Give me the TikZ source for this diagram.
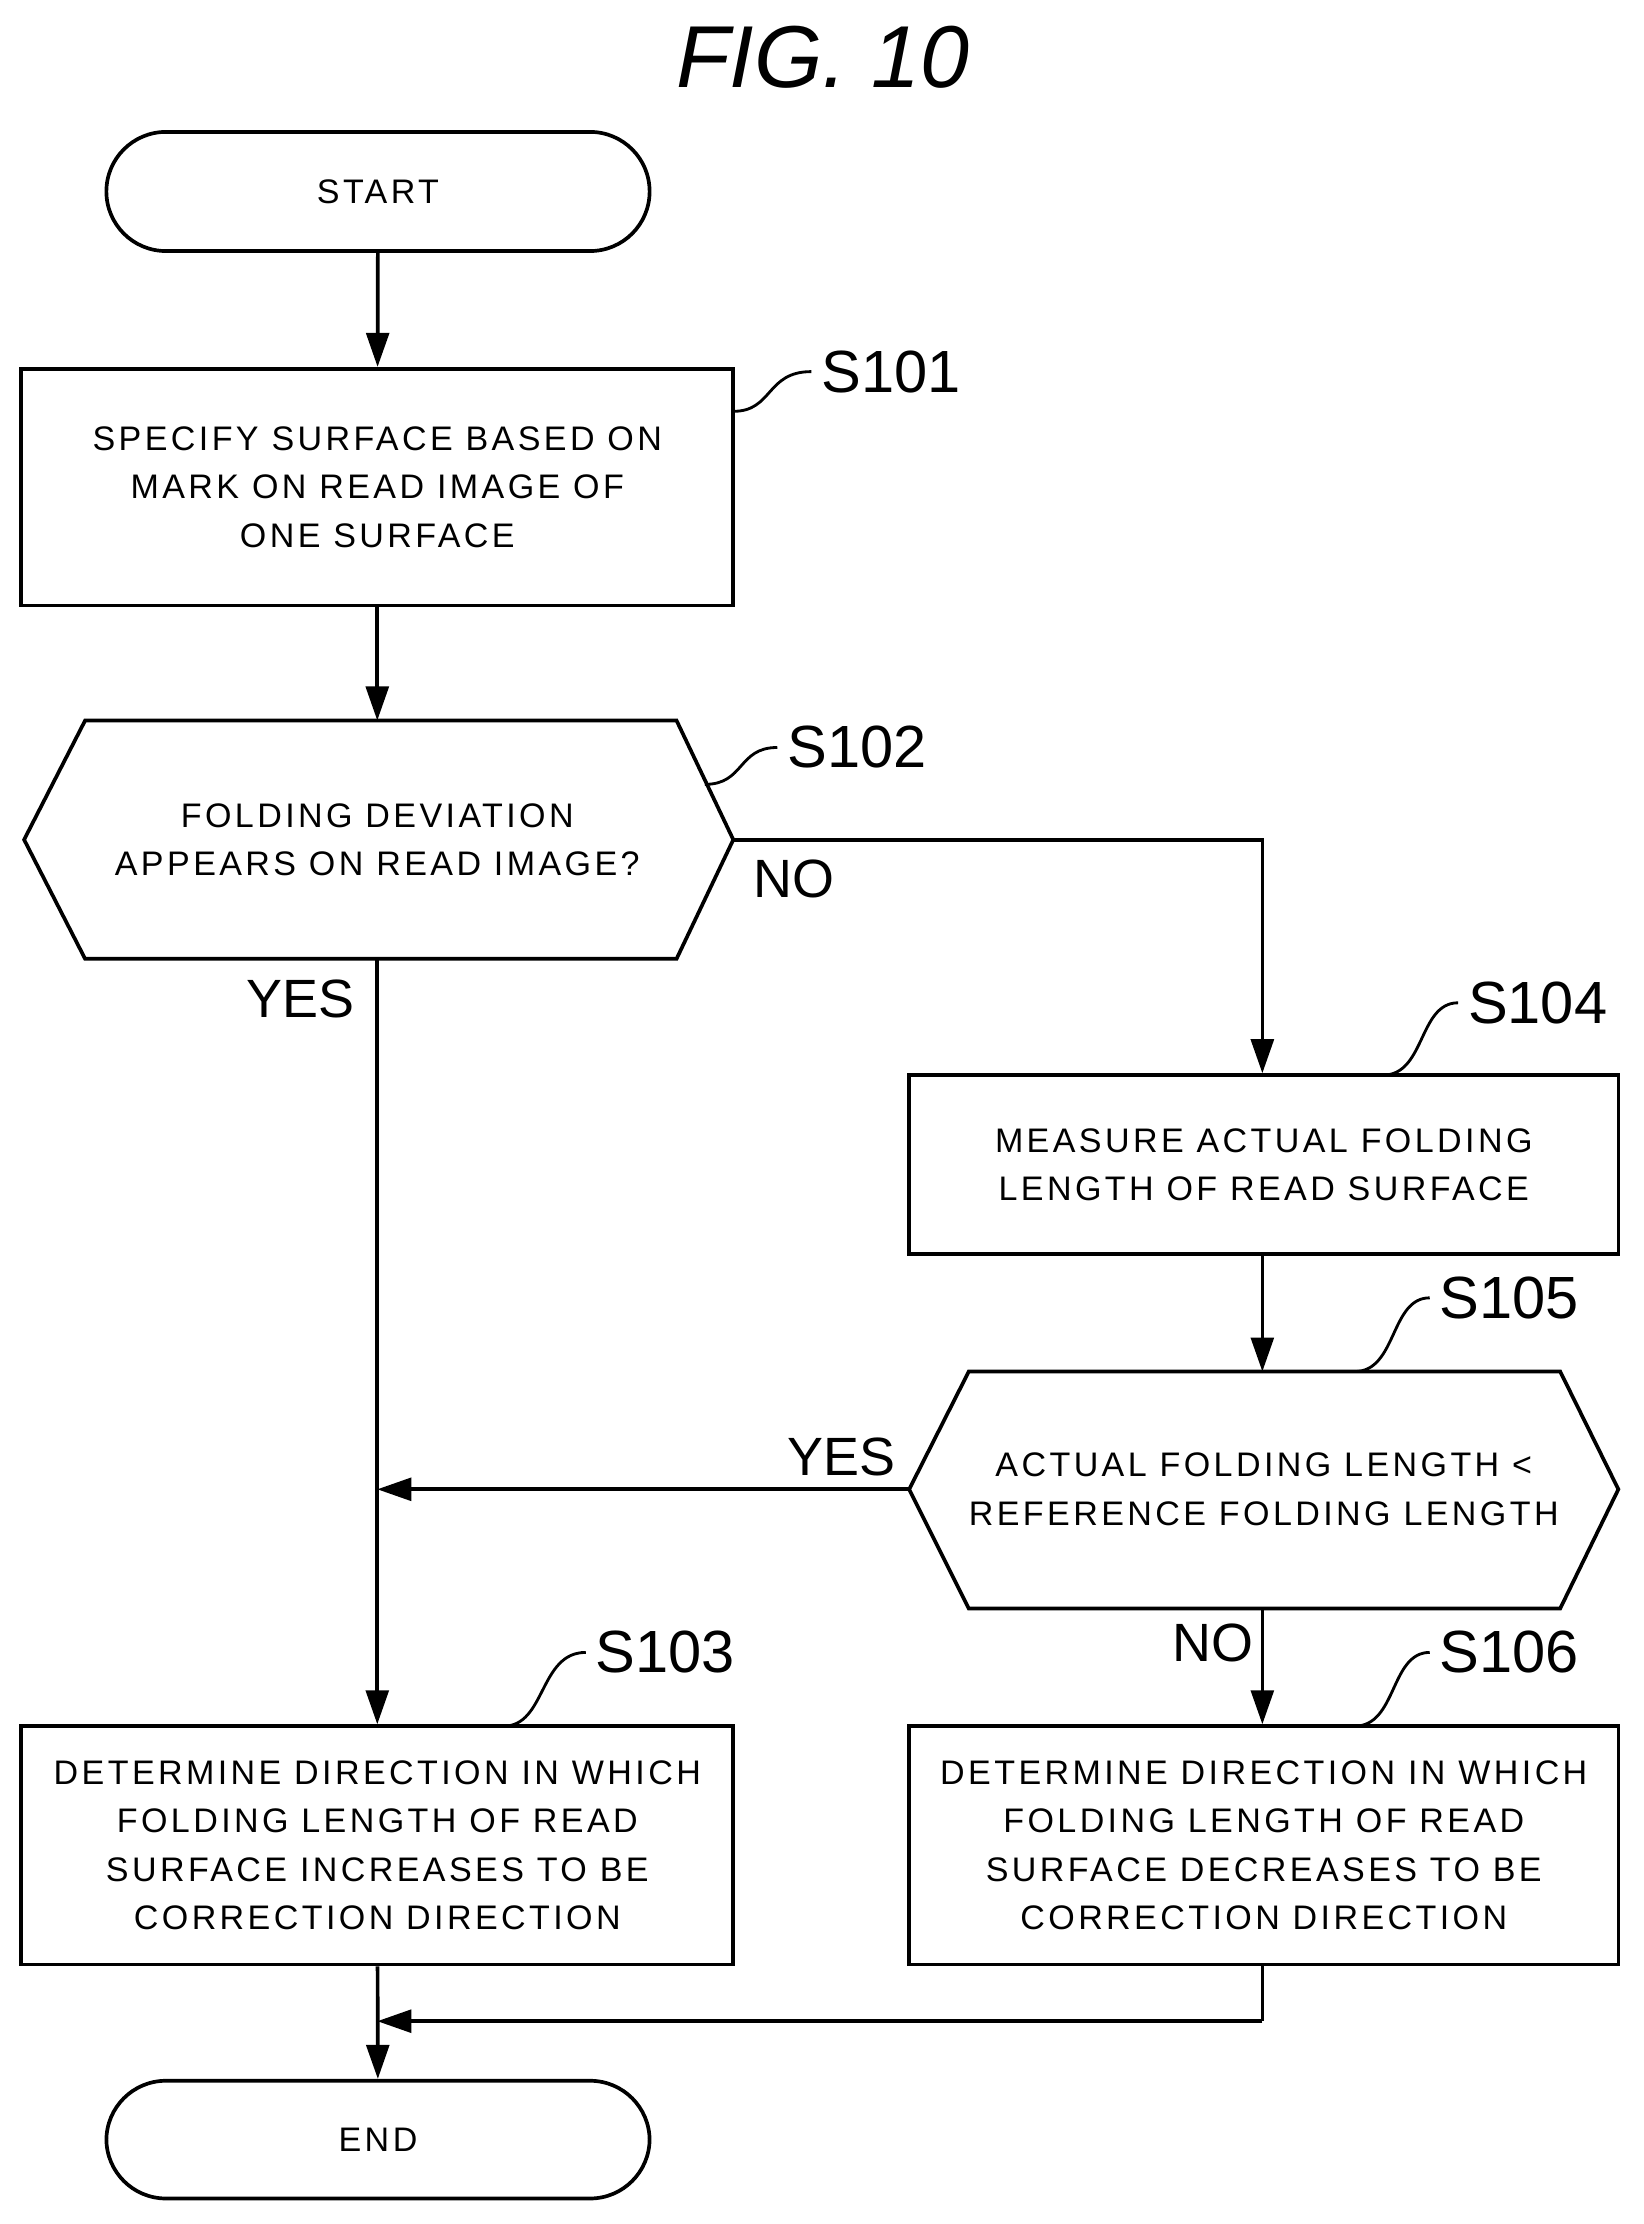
\documentclass[tikz,border=0pt]{standalone}
\usepackage{fontspec}
\setmainfont{Liberation Sans}
\usetikzlibrary{arrows.meta}
\begin{document}
\begin{tikzpicture}[x=0.5pt,y=-0.5pt,
 box/.style={draw,line width=1.3pt,align=center,inner sep=0pt,font=\fontsize{12}{17}\selectfont\addfontfeatures{LetterSpace=10}},
 term/.style={box,rounded corners=21pt},
 lbl/.style={font=\fontsize{21}{24}\selectfont},
 yn/.style={font=\fontsize{19}{22}\selectfont},
 ar/.style={line width=1.3pt,-{Triangle[length=12pt,width=8pt]}},
 ln/.style={line width=1.3pt},
 cl/.style={line width=1pt}]
\useasboundingbox (0,0) rectangle (1159,1568);
\node[font=\fontsize{31}{34}\selectfont\itshape] (title) at (580,40) {FIG. 10};
\node[term,minimum width=191.5pt,minimum height=42pt] (start) at (266.5,135) {START};
\node[box,minimum width=251pt,minimum height=83.5pt] (s101) at (266,343.5) {SPECIFY SURFACE BASED ON\\MARK ON READ IMAGE OF\\ONE SURFACE};
% S102 hexagon
\draw[ln] (17,592)--(60,508)--(477,508)--(517,592)--(477,676)--(60,676)--cycle;
\coordinate (s102t) at (266,508); \coordinate (s102b) at (266,676); \coordinate (s102r) at (517,592);
\node[box,draw=none] (s102) at (266,592) {FOLDING DEVIATION\\APPEARS ON READ IMAGE?};
\node[box,minimum width=250pt,minimum height=63pt] (s104) at (891,821) {MEASURE ACTUAL FOLDING\\LENGTH OF READ SURFACE};
% S105 hexagon
\draw[ln] (641,1050)--(683,967)--(1100,967)--(1141,1050)--(1100,1134)--(683,1134)--cycle;
\coordinate (s105t) at (890,967); \coordinate (s105b) at (890,1134); \coordinate (s105l) at (641,1050);
\node[box,draw=none] (s105) at (891,1050) {ACTUAL FOLDING LENGTH <\\REFERENCE FOLDING LENGTH};
\node[box,minimum width=251pt,minimum height=84pt] (s103) at (266,1301) {DETERMINE DIRECTION IN WHICH\\FOLDING LENGTH OF READ\\SURFACE INCREASES TO BE\\CORRECTION DIRECTION};
\node[box,minimum width=250pt,minimum height=84pt] (s106) at (891,1301) {DETERMINE DIRECTION IN WHICH\\FOLDING LENGTH OF READ\\SURFACE DECREASES TO BE\\CORRECTION DIRECTION};
\node[term,minimum width=191.5pt,minimum height=41.5pt] (end) at (266.5,1508.5) {END};
% connectors
\draw[ar] (start) -- (s101);
\draw[ar] (s101) -- (s102t);
\coordinate (nocorner) at (890,592);
\draw[ar] (s102r) -- (nocorner) -- (s104.north-|nocorner);
\draw[ar] (s102b) -- (s103.north-|s102b);
\draw[ar] (s104.south-|s105t) -- (s105t);
\coordinate (join) at (266,1050);
\draw[ar] (s105l) -- (join);
\draw[ar] (s105b) -- (s106.north-|s105b);
\coordinate (m1) at (890,1425); \coordinate (m2) at (266,1425);
\draw[ln] (s106.south-|m1) -- (m1);
\draw[ar] (m1) -- (m2);
\draw[ar] (s103) -- (end);
% yes/no
\node[yn] (no1) at (560,620) {NO};
\node[yn] (yes1) at (212,704) {YES};
\node[yn] (yes2) at (593,1027) {YES};
\node[yn] (no2) at (855,1158) {NO};
% step labels
\node[lbl,anchor=west] (l101) at (572,262) {S101};
\draw[cl] (517,290) .. controls (545,290) and (540,262) .. (l101.west);
\node[lbl,anchor=west] (l102) at (548,527) {S102};
\draw[cl] (497,553) .. controls (525,553) and (520,527) .. (l102.west);
\node[lbl,anchor=west] (l104) at (1028,707) {S104};
\draw[cl] (975,758) .. controls (1005,758) and (1000,707) .. (l104.west);
\node[lbl,anchor=west] (l105) at (1008,915) {S105};
\draw[cl] (955,967) .. controls (985,967) and (980,915) .. (l105.west);
\node[lbl,anchor=west] (l103) at (413,1165) {S103};
\draw[cl] (355,1217) .. controls (385,1217) and (380,1165) .. (l103.west);
\node[lbl,anchor=west] (l106) at (1008,1165) {S106};
\draw[cl] (955,1217) .. controls (985,1217) and (980,1165) .. (l106.west);
\end{tikzpicture}
\end{document}
